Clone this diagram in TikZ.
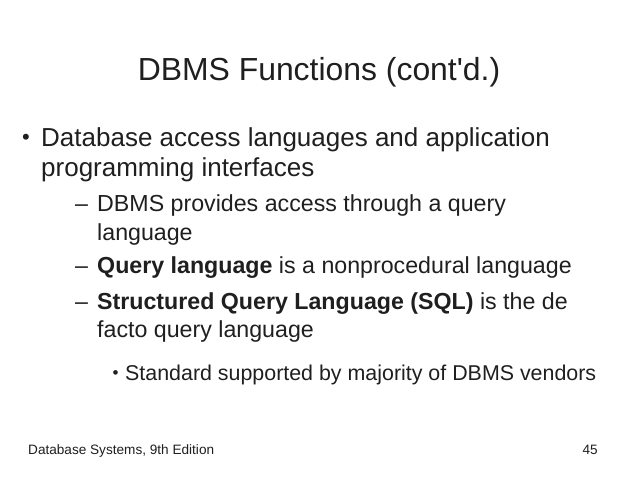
\documentclass[tikz,border=0pt]{standalone}
\usepackage{fontspec}
\setmainfont{Liberation Sans}
\newfontfamily\rawfont{Liberation Sans}[Ligatures=ResetAll]
\begin{document}
\begin{tikzpicture}[x=1pt,y=-1pt,
  txt/.style={anchor=base west,inner sep=0pt,text=black!88},
  lone/.style={txt,font=\fontsize{26}{30}\selectfont},
  ltwo/.style={txt,font=\fontsize{23.2}{27}\selectfont},
  lthree/.style={txt,font=\fontsize{21.4}{25}\selectfont}]
\path[fill=white,use as bounding box] (0,0) rectangle (638,479);
\node[txt,anchor=base,font=\fontsize{31.9}{36}\selectfont] (title) at (319,80) {DBMS Functions (cont{\rawfont'}d.)};
% level 1
\node[txt,font=\fontsize{22}{26}\selectfont] (b1) at (22,144) {•};
\node[lone] (t1a) at (41,146) {Database access languages and application};
\node[lone] (t1b) at (41,176) {programming interfaces};
% level 2
\node[ltwo] (d1) at (75,211) {–};
\node[ltwo] (t2a) at (97,211) {DBMS provides access through a query};
\node[ltwo] (t2b) at (97,240) {language};
\node[ltwo] (d2) at (75,273) {–};
\node[ltwo] (t3) at (97,273) {\textbf{Query language} is a nonprocedural language};
\node[ltwo] (d3) at (75,309) {–};
\node[ltwo] (t4a) at (97,309) {\textbf{Structured Query Language (SQL)} is the de};
\node[ltwo] (t4b) at (97,337) {facto query language};
% level 3
\node[txt,font=\fontsize{17}{20}\selectfont] (b3) at (112.5,378.5) {•};
\node[lthree] (t5) at (125,380) {Standard supported by majority of DBMS vendors};
% footer
\node[txt,font=\fontsize{13.6}{16}\selectfont] (foot) at (28,454) {Database Systems, 9th Edition};
\node[txt,anchor=base east,font=\fontsize{13.6}{16}\selectfont] (num) at (598,454) {45};
\end{tikzpicture}
\end{document}
